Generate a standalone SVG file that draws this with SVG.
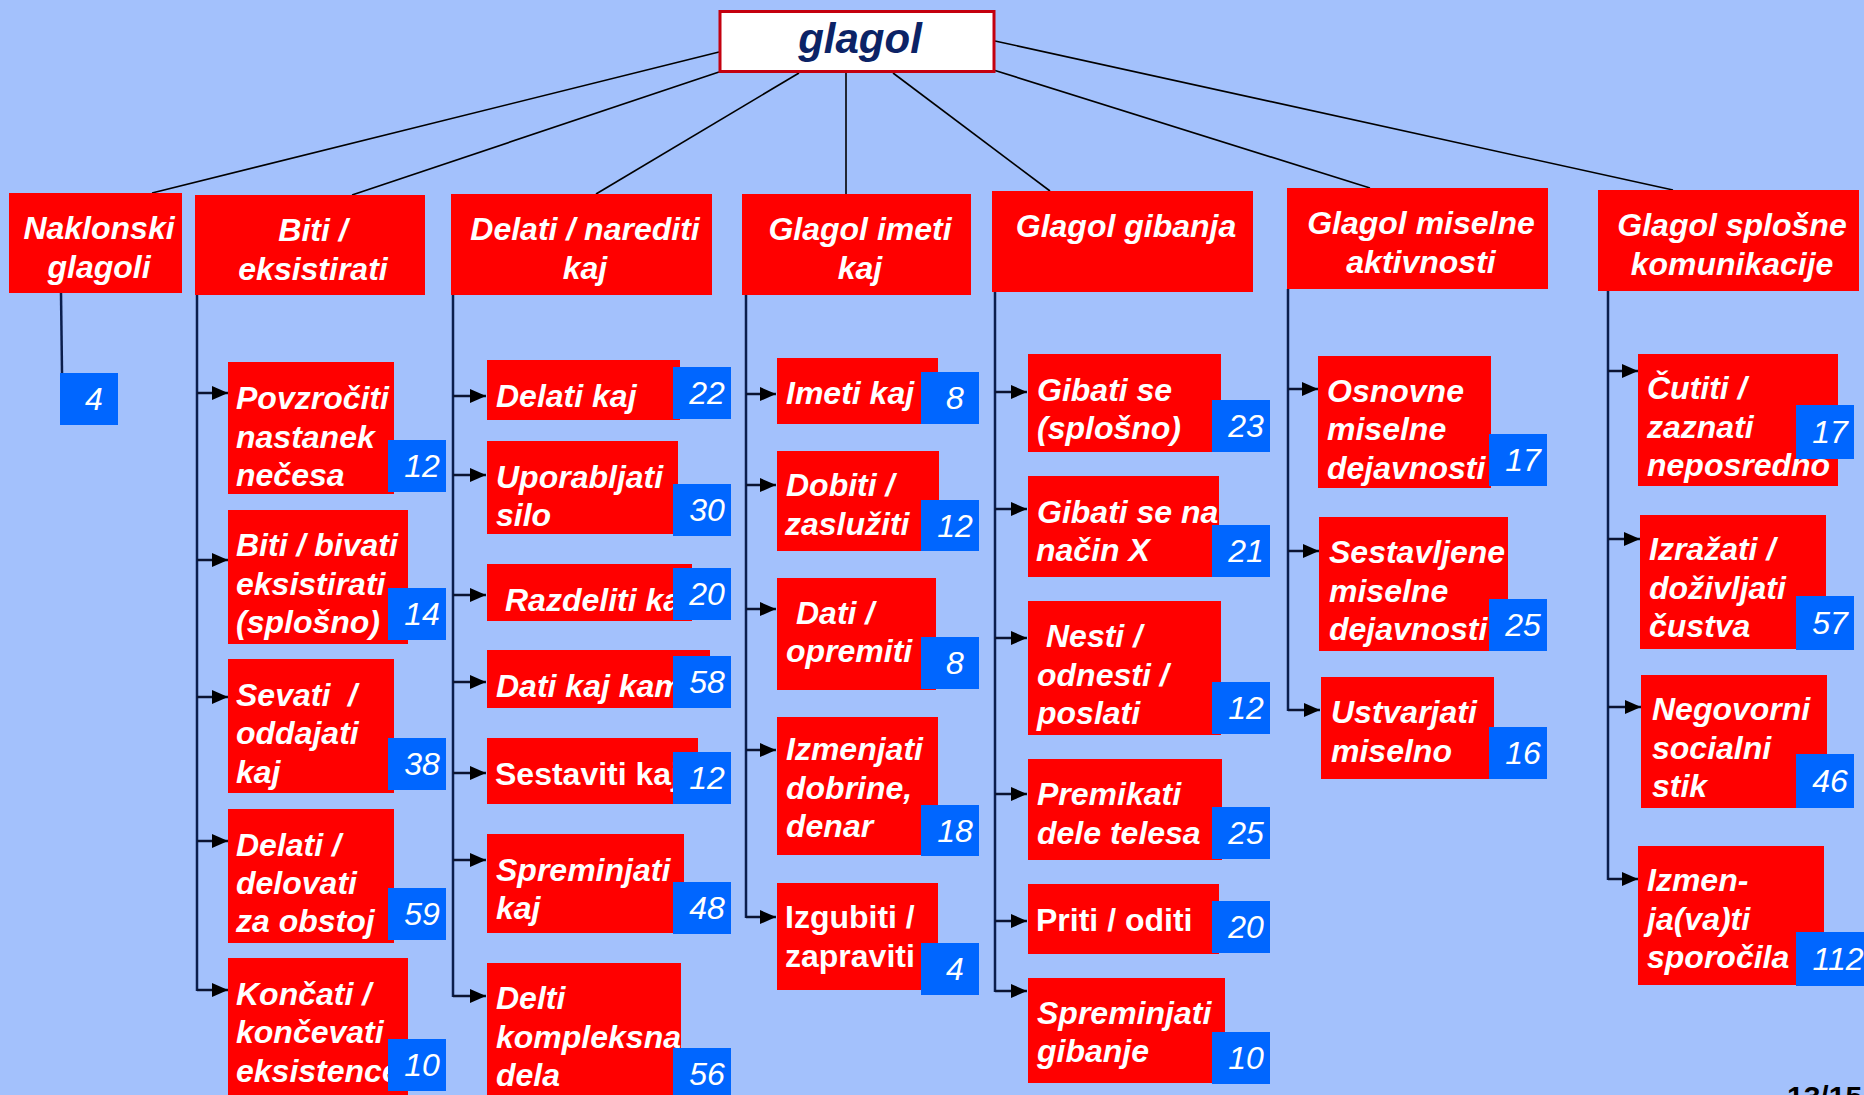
<svg xmlns="http://www.w3.org/2000/svg" width="1864" height="1095" viewBox="0 0 1864 1095">
<defs>
<style>
.hd{fill:#FF0000}
.rd{fill:#FF0000}
.bl{fill:#0066FF}
.t{font-family:"Liberation Sans",Arial,sans-serif;font-weight:bold;font-style:italic;font-size:32px;fill:#FFFFFF}
.up{font-style:normal}
.h{text-anchor:middle}
.n{font-family:"Liberation Sans",Arial,sans-serif;font-style:italic;font-size:32px;fill:#FFFFFF;text-anchor:middle}
.top{stroke:#000000;stroke-width:1.6;fill:none}
.br{stroke:#0B1E4D;stroke-width:2.5;fill:none}
.ar{stroke:#0B1431;stroke-width:2.5;fill:none;marker-end:url(#ah)}
</style>
<marker id="ah" markerUnits="userSpaceOnUse" markerWidth="17" markerHeight="15" refX="16" refY="7.5" orient="auto">
<path d="M0,0.5 L16,7.5 L0,14.5 Z" fill="#000000"/>
</marker>
</defs>
<rect width="1864" height="1095" fill="#A3C1FC"/>

<g id="connectors">
<line class="top" x1="719" y1="52" x2="152" y2="193"/>
<line class="top" x1="719" y1="72" x2="352" y2="195"/>
<line class="top" x1="799" y1="73" x2="596" y2="194"/>
<line class="top" x1="846" y1="73" x2="846" y2="194"/>
<line class="top" x1="893" y1="73" x2="1050" y2="191"/>
<line class="top" x1="995" y1="70.5" x2="1370" y2="188"/>
<line class="top" x1="995" y1="41" x2="1673" y2="190"/>

<line class="br" x1="61" y1="293" x2="62" y2="373"/>

<path class="br" d="M197,295 V991"/>
<line class="ar" x1="197" y1="393" x2="228" y2="393"/>
<line class="ar" x1="197" y1="560" x2="228" y2="560"/>
<line class="ar" x1="197" y1="697" x2="228" y2="697"/>
<line class="ar" x1="197" y1="841" x2="228" y2="841"/>
<line class="ar" x1="197" y1="990" x2="228" y2="990"/>

<path class="br" d="M453,295 V997"/>
<line class="ar" x1="453" y1="396" x2="486" y2="396"/>
<line class="ar" x1="453" y1="475" x2="486" y2="475"/>
<line class="ar" x1="453" y1="595" x2="486" y2="595"/>
<line class="ar" x1="453" y1="682" x2="486" y2="682"/>
<line class="ar" x1="453" y1="773" x2="486" y2="773"/>
<line class="ar" x1="453" y1="860" x2="486" y2="860"/>
<line class="ar" x1="453" y1="996" x2="486" y2="996"/>

<path class="br" d="M746,295 V918"/>
<line class="ar" x1="746" y1="394" x2="776" y2="394"/>
<line class="ar" x1="746" y1="485" x2="776" y2="485"/>
<line class="ar" x1="746" y1="609" x2="776" y2="609"/>
<line class="ar" x1="746" y1="750" x2="776" y2="750"/>
<line class="ar" x1="746" y1="917" x2="776" y2="917"/>

<path class="br" d="M995,292 V992"/>
<line class="ar" x1="995" y1="392" x2="1027" y2="392"/>
<line class="ar" x1="995" y1="509" x2="1027" y2="509"/>
<line class="ar" x1="995" y1="638" x2="1027" y2="638"/>
<line class="ar" x1="995" y1="794" x2="1027" y2="794"/>
<line class="ar" x1="995" y1="921" x2="1027" y2="921"/>
<line class="ar" x1="995" y1="991" x2="1027" y2="991"/>

<path class="br" d="M1288,289 V711"/>
<line class="ar" x1="1288" y1="389" x2="1318" y2="389"/>
<line class="ar" x1="1288" y1="551" x2="1319" y2="551"/>
<line class="ar" x1="1288" y1="710" x2="1320" y2="710"/>

<path class="br" d="M1608,291 V880"/>
<line class="ar" x1="1608" y1="371" x2="1638" y2="371"/>
<line class="ar" x1="1608" y1="539" x2="1640" y2="539"/>
<line class="ar" x1="1608" y1="707" x2="1641" y2="707"/>
<line class="ar" x1="1608" y1="879" x2="1638" y2="879"/>
</g>

<g id="root">
<rect x="720" y="11.5" width="274" height="60" fill="#FFFFFF" stroke="#C4000F" stroke-width="3"/>
<text x="860" y="53" font-family="'Liberation Sans',Arial,sans-serif" font-weight="bold" font-style="italic" font-size="42" fill="#0C2366" text-anchor="middle">glagol</text>
</g>

<g id="h-naklonski">
<rect class="hd" x="9" y="193" width="173" height="100"/>
<text class="t h" x="99" y="239">Naklonski<tspan x="99" dy="38.5">glagoli</tspan></text>
</g>
<g id="h-biti">
<rect class="hd" x="195" y="195" width="230" height="100"/>
<text class="t h" x="313" y="241">Biti /<tspan x="313" dy="38.5">eksistirati</tspan></text>
</g>
<g id="h-delati">
<rect class="hd" x="451" y="194" width="261" height="101"/>
<text class="t h" x="585" y="240">Delati / narediti<tspan x="585" dy="38.5">kaj</tspan></text>
</g>
<g id="h-imeti">
<rect class="hd" x="742" y="194" width="229" height="101"/>
<text class="t h" x="860" y="240">Glagol imeti<tspan x="860" dy="38.5">kaj</tspan></text>
</g>
<g id="h-gibanja">
<rect class="hd" x="992" y="191" width="261" height="101"/>
<text class="t h" x="1126" y="237">Glagol gibanja</text>
</g>
<g id="h-miselne">
<rect class="hd" x="1287" y="188" width="261" height="101"/>
<text class="t h" x="1421" y="234">Glagol miselne<tspan x="1421" dy="38.5">aktivnosti</tspan></text>
</g>
<g id="h-splosne">
<rect class="hd" x="1598" y="190" width="261" height="101"/>
<text class="t h" x="1732" y="236">Glagol splošne<tspan x="1732" dy="38.5">komunikacije</tspan></text>
</g>

<g id="n-naklonski-4">
<rect class="bl" x="60" y="373" width="58" height="52"/>
<text class="n" x="94" y="410">4</text>
</g>

<!-- Biti column -->
<g id="c-povzrociti">
<rect class="rd" x="228" y="362" width="166" height="132"/>
<text class="t" x="236" y="409">Povzročiti<tspan x="236" dy="38.5">nastanek</tspan><tspan x="236" dy="38.5">nečesa</tspan></text>
<rect class="bl" x="388" y="440" width="58" height="52"/>
<text class="n" x="422" y="477">12</text>
</g>
<g id="c-biti-bivati">
<rect class="rd" x="228" y="510" width="180" height="134"/>
<text class="t" x="236" y="556">Biti / bivati<tspan x="236" dy="38.5">eksistirati</tspan><tspan x="236" dy="38.5">(splošno)</tspan></text>
<rect class="bl" x="388" y="588" width="58" height="52"/>
<text class="n" x="422" y="625">14</text>
</g>
<g id="c-sevati">
<rect class="rd" x="228" y="659" width="166" height="134"/>
<text class="t" x="236" y="705.5" xml:space="preserve">Sevati  /<tspan x="236" dy="38.5">oddajati</tspan><tspan x="236" dy="38.5">kaj</tspan></text>
<rect class="bl" x="388" y="738" width="58" height="52"/>
<text class="n" x="422" y="775">38</text>
</g>
<g id="c-delati-delovati">
<rect class="rd" x="228" y="809" width="166" height="134"/>
<text class="t" x="236" y="856">Delati /<tspan x="236" dy="38">delovati</tspan><tspan x="236" dy="38">za obstoj</tspan></text>
<rect class="bl" x="388" y="888" width="58" height="52"/>
<text class="n" x="422" y="925">59</text>
</g>
<g id="c-koncati">
<rect class="rd" x="228" y="958" width="180" height="137"/>
<text class="t" x="236" y="1004.5">Končati /<tspan x="236" dy="38.5">končevati</tspan><tspan x="236" dy="38.5">eksistence</tspan></text>
<rect class="bl" x="388" y="1039" width="58" height="52"/>
<text class="n" x="422" y="1076">10</text>
</g>

<!-- Delati column -->
<g id="c-delati-kaj">
<rect class="rd" x="487" y="360" width="193" height="60"/>
<text class="t" x="496" y="406.5">Delati kaj</text>
<rect class="bl" x="673" y="367" width="58" height="52"/>
<text class="n" x="707" y="404">22</text>
</g>
<g id="c-uporabljati">
<rect class="rd" x="487" y="441" width="191" height="93"/>
<text class="t" x="496" y="488">Uporabljati<tspan x="496" dy="38">silo</tspan></text>
<rect class="bl" x="673" y="484" width="58" height="52"/>
<text class="n" x="707" y="521">30</text>
</g>
<g id="c-razdeliti">
<rect class="rd" x="487" y="564" width="205" height="57"/>
<text class="t" x="505" y="611">Razdeliti kaj</text>
<rect class="bl" x="673" y="568" width="58" height="52"/>
<text class="n" x="707" y="605">20</text>
</g>
<g id="c-dati-kaj-kam">
<rect class="rd" x="487" y="650" width="223" height="58"/>
<text class="t" x="496" y="697">Dati kaj kam</text>
<rect class="bl" x="673" y="656" width="58" height="52"/>
<text class="n" x="707" y="693">58</text>
</g>
<g id="c-sestaviti">
<rect class="rd" x="487" y="738" width="211" height="66"/>
<text class="t up" x="495" y="785">Sestaviti kaj</text>
<rect class="bl" x="673" y="752" width="58" height="52"/>
<text class="n" x="707" y="789">12</text>
</g>
<g id="c-spreminjati-kaj">
<rect class="rd" x="487" y="834" width="197" height="99"/>
<text class="t" x="496" y="881">Spreminjati<tspan x="496" dy="38">kaj</tspan></text>
<rect class="bl" x="673" y="882" width="58" height="52"/>
<text class="n" x="707" y="919">48</text>
</g>
<g id="c-delti">
<rect class="rd" x="487" y="963" width="194" height="132"/>
<text class="t" x="496" y="1009">Delti<tspan x="496" dy="38.5">kompleksna</tspan><tspan x="496" dy="38.5">dela</tspan></text>
<rect class="bl" x="673" y="1048" width="58" height="52"/>
<text class="n" x="707" y="1085">56</text>
</g>

<!-- Imeti column -->
<g id="c-imeti-kaj">
<rect class="rd" x="777" y="358" width="161" height="66"/>
<text class="t" x="786" y="404">Imeti kaj</text>
<rect class="bl" x="921" y="372" width="58" height="52"/>
<text class="n" x="955" y="409">8</text>
</g>
<g id="c-dobiti">
<rect class="rd" x="777" y="451" width="162" height="100"/>
<text class="t" x="786" y="496">Dobiti /<tspan x="785" dy="38.5">zaslužiti</tspan></text>
<rect class="bl" x="921" y="500" width="58" height="51"/>
<text class="n" x="955" y="537">12</text>
</g>
<g id="c-dati-opremiti">
<rect class="rd" x="777" y="578" width="159" height="112"/>
<text class="t" x="796" y="624">Dati /<tspan x="786" dy="38">opremiti</tspan></text>
<rect class="bl" x="921" y="637" width="58" height="52"/>
<text class="n" x="955" y="674">8</text>
</g>
<g id="c-izmenjati">
<rect class="rd" x="777" y="717" width="161" height="138"/>
<text class="t" x="786" y="760">Izmenjati<tspan x="786" dy="38.5">dobrine,</tspan><tspan x="786" dy="38.5">denar</tspan></text>
<rect class="bl" x="921" y="805" width="58" height="51"/>
<text class="n" x="955" y="842">18</text>
</g>
<g id="c-izgubiti">
<rect class="rd" x="777" y="883" width="161" height="107"/>
<text class="t up" x="785" y="928">Izgubiti /<tspan x="785" dy="38.5">zapraviti</tspan></text>
<rect class="bl" x="921" y="943" width="58" height="52"/>
<text class="n" x="955" y="980">4</text>
</g>

<!-- Gibanja column -->
<g id="c-gibati-se">
<rect class="rd" x="1028" y="354" width="193" height="98"/>
<text class="t" x="1037" y="400.5">Gibati se<tspan x="1037" dy="38.5">(splošno)</tspan></text>
<rect class="bl" x="1212" y="400" width="58" height="52"/>
<text class="n" x="1246" y="437">23</text>
</g>
<g id="c-gibati-nacin">
<rect class="rd" x="1028" y="476" width="191" height="101"/>
<text class="t" x="1037" y="522.5">Gibati se na<tspan x="1036" dy="38.5">način X</tspan></text>
<rect class="bl" x="1212" y="525" width="58" height="52"/>
<text class="n" x="1246" y="562">21</text>
</g>
<g id="c-nesti">
<rect class="rd" x="1028" y="601" width="193" height="134"/>
<text class="t" x="1046" y="647">Nesti /<tspan x="1037" dy="38.5">odnesti /</tspan><tspan x="1037" dy="38.5">poslati</tspan></text>
<rect class="bl" x="1212" y="682" width="58" height="52"/>
<text class="n" x="1246" y="719">12</text>
</g>
<g id="c-premikati">
<rect class="rd" x="1028" y="759" width="194" height="101"/>
<text class="t" x="1037" y="805">Premikati<tspan x="1037" dy="38.5">dele telesa</tspan></text>
<rect class="bl" x="1212" y="807" width="58" height="52"/>
<text class="n" x="1246" y="844">25</text>
</g>
<g id="c-priti">
<rect class="rd" x="1028" y="884" width="191" height="70"/>
<text class="t up" x="1036" y="930.5">Priti / oditi</text>
<rect class="bl" x="1212" y="901" width="58" height="52"/>
<text class="n" x="1246" y="938">20</text>
</g>
<g id="c-spreminjati-gibanje">
<rect class="rd" x="1028" y="978" width="197" height="105"/>
<text class="t" x="1037" y="1024">Spreminjati<tspan x="1037" dy="38">gibanje</tspan></text>
<rect class="bl" x="1212" y="1032" width="58" height="52"/>
<text class="n" x="1246" y="1069">10</text>
</g>

<!-- Miselne column -->
<g id="c-osnovne">
<rect class="rd" x="1318" y="356" width="173" height="132"/>
<text class="t" x="1327" y="401.5">Osnovne<tspan x="1327" dy="38.5">miselne</tspan><tspan x="1327" dy="38.5">dejavnosti</tspan></text>
<rect class="bl" x="1489" y="434" width="58" height="52"/>
<text class="n" x="1523" y="471">17</text>
</g>
<g id="c-sestavljene">
<rect class="rd" x="1319" y="517" width="189" height="134"/>
<text class="t" x="1329" y="563">Sestavljene<tspan x="1329" dy="38.5">miselne</tspan><tspan x="1329" dy="38.5">dejavnosti</tspan></text>
<rect class="bl" x="1489" y="599" width="58" height="52"/>
<text class="n" x="1523" y="636">25</text>
</g>
<g id="c-ustvarjati">
<rect class="rd" x="1321" y="677" width="173" height="102"/>
<text class="t" x="1331" y="723">Ustvarjati<tspan x="1331" dy="38.5">miselno</tspan></text>
<rect class="bl" x="1489" y="727" width="58" height="52"/>
<text class="n" x="1523" y="764">16</text>
</g>

<!-- Splosne column -->
<g id="c-cutiti">
<rect class="rd" x="1638" y="354" width="200" height="132"/>
<text class="t" x="1647" y="399">Čutiti /<tspan x="1647" dy="38.5">zaznati</tspan><tspan x="1647" dy="38.5">neposredno</tspan></text>
<rect class="bl" x="1796" y="405" width="58" height="54"/>
<text class="n" x="1830" y="443">17</text>
</g>
<g id="c-izrazati">
<rect class="rd" x="1640" y="515" width="186" height="134"/>
<text class="t" x="1649" y="560">Izražati /<tspan x="1649" dy="38.5">doživljati</tspan><tspan x="1649" dy="38.5">čustva</tspan></text>
<rect class="bl" x="1796" y="596" width="58" height="54"/>
<text class="n" x="1830" y="634">57</text>
</g>
<g id="c-negovorni">
<rect class="rd" x="1641" y="675" width="186" height="133"/>
<text class="t" x="1652" y="720">Negovorni<tspan x="1652" dy="38.5">socialni</tspan><tspan x="1652" dy="38.5">stik</tspan></text>
<rect class="bl" x="1796" y="754" width="58" height="54"/>
<text class="n" x="1830" y="792">46</text>
</g>
<g id="c-izmenjavati">
<rect class="rd" x="1638" y="846" width="186" height="139"/>
<text class="t" x="1647" y="891">Izmen-<tspan x="1647" dy="38.5">ja(va)ti</tspan><tspan x="1647" dy="38.5">sporočila</tspan></text>
<rect class="bl" x="1796" y="932" width="68" height="54"/>
<text class="n" x="1838" y="970">112</text>
</g>

<text x="1787" y="1107" font-family="'Liberation Sans',Arial,sans-serif" font-weight="bold" font-size="30" fill="#000000">13/15</text>
</svg>
